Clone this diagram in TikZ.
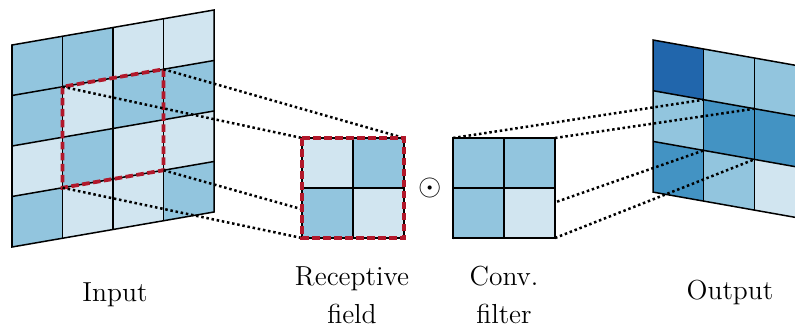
\documentclass[tikz,border=0pt]{standalone}

\definecolor{blueI}{HTML}{D1E5F0}
\definecolor{blueII}{HTML}{92C5DE}
\definecolor{blueIII}{HTML}{4393C3}
\definecolor{blueIV}{HTML}{2166AC}
\definecolor{winred}{HTML}{B2182B}

\begin{document}
\begin{tikzpicture}[x=0.4pt, y=-0.4pt,
  cell/.style={draw=black, line width=0.6pt},
  rfbox/.style={draw=winred, line width=1.5pt, dash pattern=on 3pt off 1.4pt},
  link/.style={line width=1pt, dash pattern=on 1pt off 1.1pt},
  caption/.style={font=\fontsize{11}{15.2}\selectfont, align=center, anchor=base}]
\useasboundingbox (0,0) rectangle (795,328);

% input map, seen at a slant
\begin{scope}[cm={1,0.1733,0,1,(12,45)}]
\fill[blueII] (0,0) rectangle (50.5,50.5);
\fill[blueII] (50.5,0) rectangle (101,50.5);
\fill[blueI] (101,0) rectangle (151.5,50.5);
\fill[blueI] (151.5,0) rectangle (202,50.5);
\fill[blueII] (0,50.5) rectangle (50.5,101);
\fill[blueI] (50.5,50.5) rectangle (101,101);
\fill[blueII] (101,50.5) rectangle (151.5,101);
\fill[blueII] (151.5,50.5) rectangle (202,101);
\fill[blueI] (0,101) rectangle (50.5,151.5);
\fill[blueII] (50.5,101) rectangle (101,151.5);
\fill[blueI] (101,101) rectangle (151.5,151.5);
\fill[blueI] (151.5,101) rectangle (202,151.5);
\fill[blueII] (0,151.5) rectangle (50.5,202);
\fill[blueI] (50.5,151.5) rectangle (101,202);
\fill[blueI] (101,151.5) rectangle (151.5,202);
\fill[blueII] (151.5,151.5) rectangle (202,202);
\foreach \k in {50.5,101,151.5} {
  \draw[cell] (\k,0) -- (\k,202);
  \draw[cell] (0,\k) -- (202,\k);
}
\draw[cell] (0,0) rectangle (202,202);
\draw[rfbox] (50.5,50.5) rectangle (151.5,151.5);
\coordinate (in-tl) at (50.5,50.5);
\coordinate (in-tr) at (151.5,50.5);
\coordinate (in-bl) at (50.5,151.5);
\coordinate (in-br) at (151.5,151.5);
\end{scope}

% output map, slanted the other way
\begin{scope}[cm={1,-0.1775,0,1,(653,40)}]
\fill[blueIV] (0,0) rectangle (50.7,50.7);
\fill[blueII] (50.7,0) rectangle (101.4,50.7);
\fill[blueII] (101.4,0) rectangle (152.1,50.7);
\fill[blueII] (0,50.7) rectangle (50.7,101.4);
\fill[blueIII] (50.7,50.7) rectangle (101.4,101.4);
\fill[blueIII] (101.4,50.7) rectangle (152.1,101.4);
\fill[blueIII] (0,101.4) rectangle (50.7,152.1);
\fill[blueII] (50.7,101.4) rectangle (101.4,152.1);
\fill[blueI] (101.4,101.4) rectangle (152.1,152.1);
\foreach \k in {50.7,101.4} {
  \draw[cell] (\k,0) -- (\k,152.1);
  \draw[cell] (0,\k) -- (152.1,\k);
}
\draw[cell] (0,0) rectangle (152.1,152.1);
\coordinate (out-tl) at (50.7,50.7);
\coordinate (out-tr) at (101.4,50.7);
\coordinate (out-bl) at (50.7,101.4);
\coordinate (out-br) at (101.4,101.4);
\end{scope}

% corners of the receptive field and the filter
\coordinate (rf-tl) at (302,138);
\coordinate (rf-tr) at (404,138);
\coordinate (rf-bl) at (302,238);
\coordinate (rf-br) at (404,238);
\coordinate (flt-tl) at (453,138);
\coordinate (flt-tr) at (555,138);
\coordinate (flt-bl) at (453,238);
\coordinate (flt-br) at (555,238);

% projection lines (the boxes below hide their far parts)
\draw[link] (in-tl) -- (rf-tl);
\draw[link] (in-tr) -- (rf-tr);
\draw[link] (in-bl) -- (rf-bl);
\draw[link] (in-br) -- (rf-br);
\draw[link] (flt-tl) -- (out-tl);
\draw[link] (flt-tr) -- (out-tr);
\draw[link] (flt-bl) -- (out-bl);
\draw[link] (flt-br) -- (out-br);

% receptive field
\begin{scope}[shift={(302,138)}]
\fill[blueI] (0,0) rectangle (51,50);
\fill[blueII] (51,0) rectangle (102,50);
\fill[blueII] (0,50) rectangle (51,100);
\fill[blueI] (51,50) rectangle (102,100);
\draw[cell] (51,0) -- (51,100);
\draw[cell] (0,50) -- (102,50);
\draw[cell] (0,0) rectangle (102,100);
\draw[rfbox] (0,0) rectangle (102,100);
\end{scope}

% convolution filter
\begin{scope}[shift={(453,138)}]
\fill[blueII] (0,0) rectangle (51,50);
\fill[blueII] (51,0) rectangle (102,50);
\fill[blueII] (0,50) rectangle (51,100);
\fill[blueI] (51,50) rectangle (102,100);
\draw[cell] (51,0) -- (51,100);
\draw[cell] (0,50) -- (102,50);
\draw[cell] (0,0) rectangle (102,100);
\end{scope}

\node (odot) [font=\fontsize{12}{14}\selectfont] at (430,188) {$\odot$};

\node (inlbl) [caption] at (115,301) {Input};
\node (rflbl) [caption] at (352,323) {Receptive\\field};
\node (fltlbl) [caption] at (504,323) {Conv.\\filter};
\node (outlbl) [caption] at (730,299) {Output};
\end{tikzpicture}
\end{document}
